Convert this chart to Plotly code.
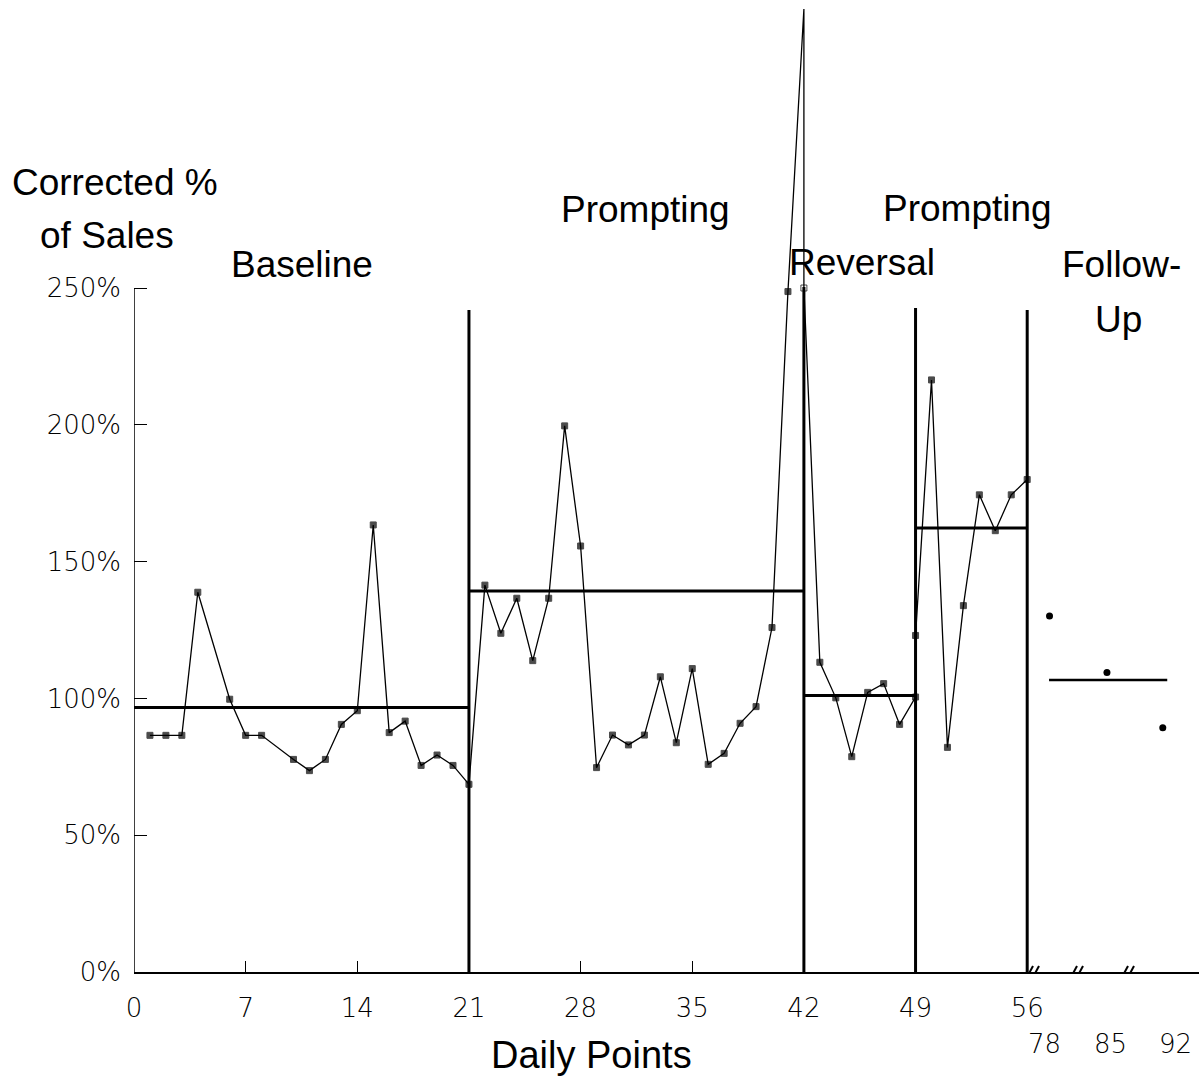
import plotly.graph_objects as go

# ---------------- data ----------------
baseline_days = [1, 2, 3, 4, 6, 7, 8, 10, 11, 12, 13, 14, 15, 16, 17, 18, 19, 20, 21]
baseline_vals = [86.5, 86.5, 86.5, 138.8, 99.7, 86.5, 86.5, 77.7, 73.6, 77.7, 90.5,
                 95.5, 163.4, 87.5, 91.7, 75.5, 79.3, 75.5, 68.6]

prompt1_days = list(range(22, 43))
prompt1_vals = [141.4, 123.8, 136.6, 113.8, 136.6, 199.6, 155.7, 74.7, 86.6, 83.0,
                86.6, 107.9, 83.8, 110.9, 75.9, 79.9, 90.9, 97.0, 125.9, 248.7, 352.0]

reversal_days = [42, 43, 44, 45, 46, 47, 48, 49]
reversal_vals = [250.0, 113.2, 100.2, 78.7, 102.2, 105.4, 90.5, 100.5]

prompt2_days = [49, 50, 51, 52, 53, 54, 55, 56]
prompt2_vals = [123.0, 216.4, 82.1, 133.9, 174.4, 161.3, 174.4, 180.0]

followup_labels = ["78", "85", "92"]
followup_pos = [57.4, 61.0, 64.5]          # positions on the broken axis
followup_label_pos = [57.1, 61.25, 65.3]
followup_vals = [130.1, 109.5, 89.3]

phase_bounds = [0, 21, 42, 49, 56]
phase_means = [96.7, 139.3, 101.1, 162.3]
phase_line_tops = [242.0, 250.4, 242.7, 242.0]   # tops of the phase-change lines at 21, 42, 49, 56
followup_mean = 106.7
followup_mean_span = [57.37, 64.78]

y_tick_vals = [0, 50, 100, 150, 200, 250]
y_tick_text = ["0%", "50%", "100%", "150%", "200%", "250%"]
x_tick_vals = [0, 7, 14, 21, 28, 35, 42, 49, 56]

# ---------------- geometry ----------------
W, H = 1199, 1076
ML, MR, MT, MB = 134, 0, 0, 104
PW, PH = W - ML - MR, H - MT - MB
PX_PER_X = 15.95
PX_PER_Y = 2.736
XMAX = PW / PX_PER_X
YMAX = PH / PX_PER_Y


def dx(px):
    return (px - ML) / PX_PER_X


def dy(py):
    return (H - MB - py) / PX_PER_Y


def paper_x(px):
    return (px - ML) / PW


def paper_y(py):
    return (H - MB - py) / PH


days = baseline_days + prompt1_days + reversal_days + prompt2_days
vals = baseline_vals + prompt1_vals + reversal_vals + prompt2_vals
sizes = [6] * len(days)
symbols = ["square"] * len(days)
# off-scale spike point has no marker; the clipped value at 42 is drawn open
spike_idx = len(baseline_days) + len(prompt1_days) - 1
sizes[spike_idx] = 0
symbols[spike_idx + 1] = "square-open"

fig = go.Figure()

# phase mean lines
for i, m in enumerate(phase_means):
    fig.add_trace(go.Scatter(x=[phase_bounds[i], phase_bounds[i + 1]], y=[m, m],
                             mode="lines", line=dict(color="black", width=3),
                             hoverinfo="skip", showlegend=False))
fig.add_trace(go.Scatter(x=followup_mean_span, y=[followup_mean, followup_mean],
                         mode="lines", line=dict(color="black", width=2.5),
                         hoverinfo="skip", showlegend=False))

# phase change lines
for b, top in zip(phase_bounds[1:], phase_line_tops):
    fig.add_trace(go.Scatter(x=[b, b], y=[0, top], mode="lines",
                             line=dict(color="black", width=3),
                             hoverinfo="skip", showlegend=False))

# main data series
fig.add_trace(go.Scatter(x=days, y=vals, mode="lines+markers",
                         line=dict(color="black", width=1.3),
                         marker=dict(color="black", size=sizes, symbol=symbols,
                                     line=dict(color="black", width=1)),
                         cliponaxis=False, showlegend=False))

# follow-up points
fig.add_trace(go.Scatter(x=followup_pos, y=followup_vals, mode="markers",
                         marker=dict(color="black", size=7, symbol="circle"),
                         showlegend=False))

shapes = []
# y-axis line only up to 250%
shapes.append(dict(type="line", xref="x", yref="y", x0=0, x1=0, y0=0, y1=250,
                   line=dict(color="black", width=1.5)))
# axis break marks "//"
for cpx in [1033, 1077, 1128]:
    for off in (-3, 3):
        shapes.append(dict(type="line", xref="x", yref="y",
                           x0=dx(cpx + off - 4), y0=dy(979),
                           x1=dx(cpx + off + 3), y1=dy(966),
                           line=dict(color="black", width=2)))

title_font = dict(family="Liberation Sans, Arial, sans-serif", size=37, color="black")
tick_font = dict(family="DejaVu Sans, sans-serif", size=26, color="black", weight=300)

annotations = []


def add_text(text, cx, cy, font):
    annotations.append(dict(text=text, x=paper_x(cx), y=paper_y(cy),
                            xref="paper", yref="paper",
                            showarrow=False, xanchor="center", yanchor="middle",
                            font=font))


add_text("Corrected %", 115, 183, title_font)
add_text("of Sales", 107, 235, title_font)
add_text("Baseline", 302, 265, title_font)
add_text("Prompting", 645, 210, title_font)
add_text("Reversal", 862, 262, title_font)
add_text("Prompting", 967, 208, title_font)
add_text("Follow-", 1121, 265, title_font)
add_text("Up", 1118, 320, title_font)
add_text("Daily Points", 591, 1055, dict(title_font, size=38))
for lab, pos in zip(followup_labels, followup_label_pos):
    annotations.append(dict(text=lab, x=pos, y=paper_y(1044), xref="x", yref="paper",
                            showarrow=False, xanchor="center", yanchor="middle",
                            font=tick_font))

fig.update_layout(
    width=W, height=H,
    margin=dict(l=ML, r=MR, t=MT, b=MB, pad=0),
    paper_bgcolor="white", plot_bgcolor="white",
    shapes=shapes, annotations=annotations,
    showlegend=False,
    xaxis=dict(range=[0, XMAX], showgrid=False, zeroline=False,
               showline=True, linecolor="black", linewidth=1.5,
               tickmode="array", tickvals=x_tick_vals,
               ticks="inside", ticklen=11, tickwidth=1.2, tickcolor="black",
               tickfont=tick_font, ticklabelstandoff=12),
    yaxis=dict(range=[0, YMAX], showgrid=False, zeroline=False, showline=False,
               tickmode="array", tickvals=y_tick_vals, ticktext=y_tick_text,
               ticks="inside", ticklen=13, tickwidth=1.2, tickcolor="black",
               tickfont=tick_font, ticklabelstandoff=12),
)

fig.write_html("out.html",
               config={"displayModeBar": False},
               post_script="document.body.style.margin='0';"
                           "document.body.style.overflow='hidden';")
